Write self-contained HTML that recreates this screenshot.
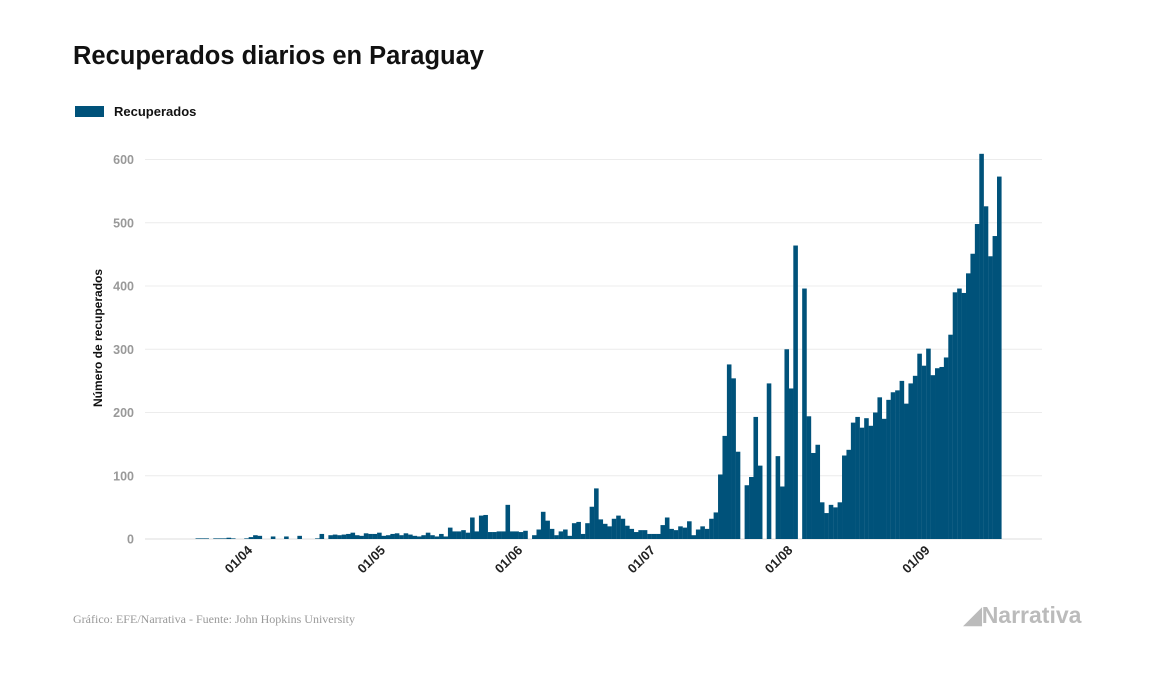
<!DOCTYPE html>
<html><head><meta charset="utf-8">
<style>
html,body{margin:0;padding:0;background:#fff;}
body{width:1157px;height:674px;position:relative;overflow:hidden;font-family:"Liberation Sans",sans-serif;}
#title{position:absolute;left:73px;top:42px;font-size:25.5px;font-weight:bold;color:#111;margin:0;}
#legend{position:absolute;left:75px;top:104px;font-size:13px;font-weight:bold;color:#111;}
#legend .sw{display:inline-block;width:29px;height:11px;background:#00527a;vertical-align:middle;margin-right:10px;position:relative;top:-1px;}
#footer{position:absolute;left:73px;top:612px;font-family:"Liberation Serif",serif;font-size:12px;color:#999;}
#logo{position:absolute;left:964px;top:602px;font-size:23px;font-weight:bold;color:#bbb;}
</style></head><body>
<h1 id="title">Recuperados diarios en Paraguay</h1>
<div id="legend"><span class="sw"></span>Recuperados</div>
<svg id="chart" width="1157" height="674" style="position:absolute;left:0;top:0"></svg>
<div id="footer">Gráfico: EFE/Narrativa - Fuente: John Hopkins University</div>
<div id="logo">&#9698;Narrativa</div>
<script>
const startDay = -16; // Mar 16 relative to Apr 1
const marValues = [0,0,0,1,1,1,0,1,1,1,2,1,0,0,1,3];
const aprValues = [6,5,0,0,4,0,0,4,0,0,5,0,0,0,1,8,0,6,7,6,7,8,10,6,5,9,8,8,10,5];
const mayValues = [6,8,9,6,9,7,5,4,6,10,6,4,8,4,18,12,12,14,10,34,12,37,38,11,11,12,12,54,12,12,11];
const junValues = [13,0,6,15,43,29,16,6,12,15,5,25,27,8,25,51,80,31,24,20,32,37,32,21,16,11,14,14,8,8];
const julValues = [8,22,34,16,14,20,18,28,6,15,20,16,32,42,102,163,276,254,138,0,85,98,193,116,0,246,0,131,83,300,238];
const augValues = [464,0,396,194,136,149,58,41,54,50,58,132,141,184,193,176,191,179,200,224,190,220,232,235,250,214,246,258,293,274,301];
const sepValues = [259,270,272,287,323,390,396,389,420,451,498,609,526,447,479,573];
const yTicks = [0,100,200,300,400,500,600];
const xTickDays = [0,30,61,91,122,153];
const xTickLabels = ["01/04","01/05","01/06","01/07","01/08","01/09"];

const values = [].concat(marValues,aprValues,mayValues,junValues,julValues,augValues,sepValues);
const NS = "http://www.w3.org/2000/svg";
const svg = document.getElementById('chart');
const X0 = 253.1, DW = 4.428, Y0 = 539, YK = 0.6325;
function xScale(d){ return X0 + d*DW; }
function yScale(v){ return Y0 - v*YK; }
function mk(tag, attrs){ const e=document.createElementNS(NS,tag); for(const k in attrs) e.setAttribute(k,attrs[k]); svg.appendChild(e); return e; }

yTicks.forEach(t=>{
  const g = mk('line',{x1:145,x2:1042,y1:yScale(t),y2:yScale(t),stroke:t===0?'#ddd':'#ececec','stroke-width':1});
  
  
  const tx = mk('text',{x:134,y:yScale(t)+4.5,'text-anchor':'end','font-size':12.5,'font-weight':'bold',fill:'#999','font-family':'Liberation Sans, sans-serif'});
  tx.textContent = t;
  
  
});

values.forEach((v,i)=>{
  if(v<=0) return;
  const d = startDay + i;
  const r = mk('rect',{x:xScale(d),y:yScale(v),width:DW+0.15,height:Y0-yScale(v),fill:'#00527a'});
  
  
});

xTickDays.forEach((d,i)=>{
  const x = xScale(d);
  const t = mk('text',{x:0,y:0,'text-anchor':'end','font-size':13,'font-weight':'bold',fill:'#222','font-family':'Liberation Sans, sans-serif',transform:`translate(${x},${551}) rotate(-45)`});
  t.textContent = xTickLabels[i];
  
  
});

const yt = mk('text',{x:0,y:0,'text-anchor':'middle','font-size':12,'font-weight':'bold',fill:'#111','font-family':'Liberation Sans, sans-serif',transform:'translate(102,338) rotate(-90)'});
yt.textContent = 'Número de recuperados';


</script>
</body></html>
